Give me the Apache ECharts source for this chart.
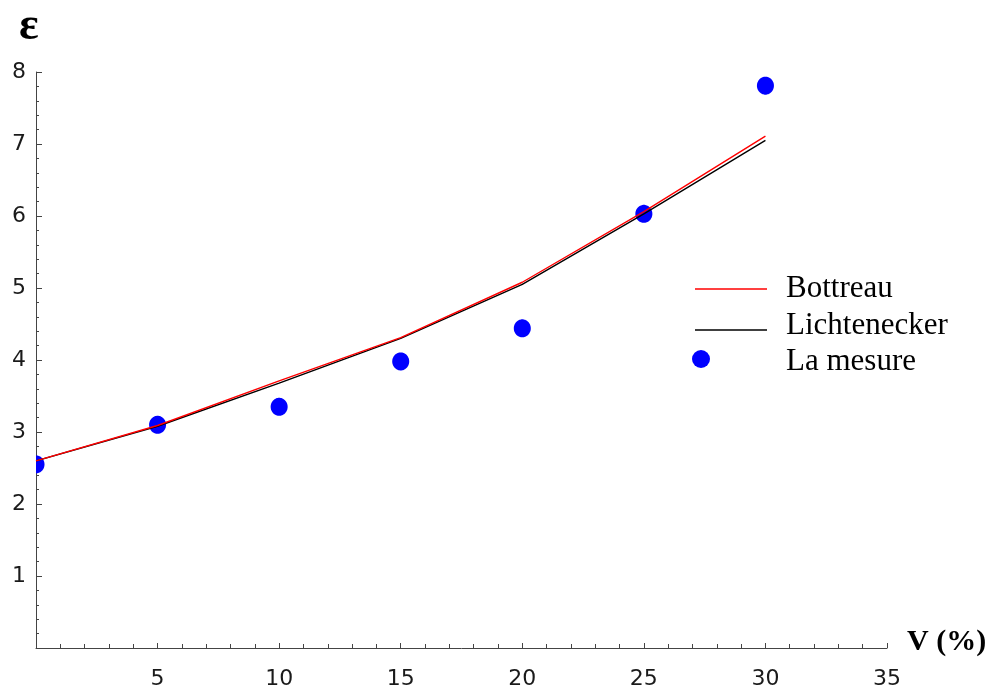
<!DOCTYPE html>
<html>
<head>
<meta charset="utf-8">
<script src="https://cdn.jsdelivr.net/npm/echarts@6/dist/echarts.min.js"></script>
<style>
  html, body { margin: 0; padding: 0; background: #fff; }
  #chart { width: 993px; height: 690px; }
</style>
</head>
<body>
<div id="chart"></div>
<script>
// Volume fraction V (%) at which permittivity was computed / measured
const volumeFractions = [0, 5, 10, 15, 20, 25, 30];
// Bottreau mixing model
const bottreau = [2.60, 3.09, 3.71, 4.31, 5.08, 6.06, 7.11];
// Lichtenecker mixing model
const lichtenecker = [2.60, 3.08, 3.68, 4.30, 5.05, 6.03, 7.05];
// Measured permittivity
const mesure = [2.55, 3.10, 3.35, 3.98, 4.44, 6.03, 7.81];

const xTicks = [5, 10, 15, 20, 25, 30, 35];
const yTicks = [1, 2, 3, 4, 5, 6, 7, 8];
const X_MIN = 0, X_MAX = 35, Y_MIN = 0, Y_MAX = 8;

const pairs = (ys) => volumeFractions.map((x, i) => [x, ys[i]]);

const axisColor = '#444';
const tickFont = { fontFamily: 'DejaVu Sans', fontSize: 22, color: '#1a1a1a' };

// Ellipse outline as a polygon, cut at the vertical axis
function clippedEllipse(cx, cy, rx, ry, xLeft) {
  const pts = [];
  const n = 72;
  for (let k = 0; k < n; k++) {
    const t = (2 * Math.PI * k) / n;
    pts.push([Math.max(xLeft, cx + rx * Math.cos(t)), cy + ry * Math.sin(t)]);
  }
  return pts;
}

const chart = echarts.init(document.getElementById('chart'), null, { renderer: 'canvas' });

chart.setOption({
  animation: false,
  backgroundColor: '#ffffff',
  grid: { left: 36, right: 106, top: 72, bottom: 41, containLabel: false },
  xAxis: {
    type: 'value', min: X_MIN, max: X_MAX, interval: 5,
    axisLine: { show: true, lineStyle: { color: axisColor, width: 1 } },
    axisTick: { show: true, inside: true, length: 5, lineStyle: { color: axisColor } },
    minorTick: { show: true, splitNumber: 5, length: 4, lineStyle: { color: axisColor } },
    splitLine: { show: false },
    axisLabel: Object.assign({ margin: 20, formatter: v => (xTicks.includes(v) ? String(v) : '') }, tickFont)
  },
  yAxis: {
    type: 'value', min: Y_MIN, max: Y_MAX, interval: 1,
    axisLine: { show: true, lineStyle: { color: axisColor, width: 1 } },
    axisTick: { show: true, inside: true, length: 6, lineStyle: { color: axisColor } },
    minorTick: { show: true, splitNumber: 5, length: 3, lineStyle: { color: axisColor } },
    splitLine: { show: false },
    axisLabel: Object.assign({ margin: 10, formatter: v => (yTicks.includes(v) ? String(v) : '') }, tickFont)
  },
  graphic: [
    { type: 'text', left: 19, top: 4, style: { text: 'ε', font: 'bold 46px "Liberation Serif"', fill: '#000' } },
    { type: 'text', x: 907, y: 642, style: { text: 'V (%)', font: 'bold 30px "Liberation Serif"', fill: '#000', verticalAlign: 'middle' } },
    // legend
    { type: 'line', shape: { x1: 695, y1: 289, x2: 767, y2: 289 }, style: { stroke: '#ff0000', lineWidth: 1.5 } },
    { type: 'line', shape: { x1: 695, y1: 330, x2: 767, y2: 330 }, style: { stroke: '#000000', lineWidth: 1.5 } },
    { type: 'circle', shape: { cx: 701, cy: 359, r: 9 }, style: { fill: '#0000ff' } },
    { type: 'text', x: 786, y: 289, style: { text: 'Bottreau', font: '31px "Liberation Serif"', fill: '#000', verticalAlign: 'middle' } },
    { type: 'text', x: 786, y: 326, style: { text: 'Lichtenecker', font: '31px "Liberation Serif"', fill: '#000', verticalAlign: 'middle' } },
    { type: 'text', x: 786, y: 362, style: { text: 'La mesure', font: '31px "Liberation Serif"', fill: '#000', verticalAlign: 'middle' } }
  ],
  series: [
    {
      name: 'La mesure',
      type: 'custom',
      z: 2,
      data: pairs(mesure),
      renderItem: (params, api) => {
        const p = api.coord([api.value(0), api.value(1)]);
        const axisX = api.coord([X_MIN, api.value(1)])[0];
        return {
          type: 'polygon',
          shape: { points: clippedEllipse(p[0], p[1], 8.5, 9, axisX) },
          style: { fill: '#0000ff', stroke: null }
        };
      }
    },
    {
      name: 'Lichtenecker', type: 'line', z: 3, symbol: 'none',
      data: pairs(lichtenecker),
      lineStyle: { color: '#000000', width: 1.4 }
    },
    {
      name: 'Bottreau', type: 'line', z: 4, symbol: 'none',
      data: pairs(bottreau),
      lineStyle: { color: '#ff0000', width: 1.4 }
    }
  ]
});
</script>
</body>
</html>
